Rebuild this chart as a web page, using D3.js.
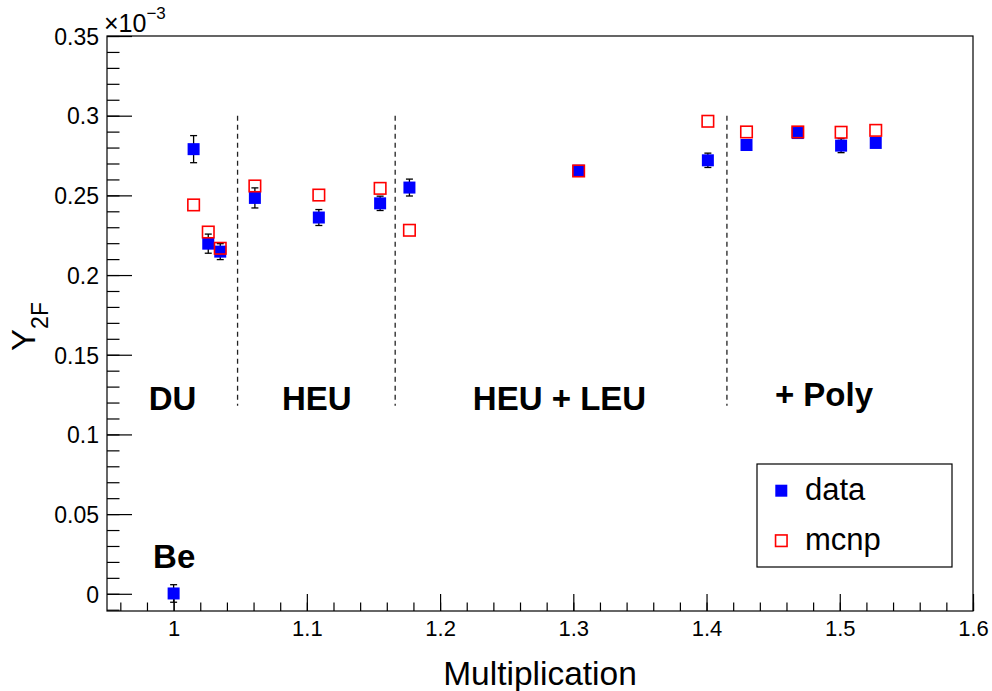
<!DOCTYPE html>
<html>
<head>
<meta charset="utf-8">
<script src="https://cdn.jsdelivr.net/npm/d3@7"></script>
<style>
  html, body { margin: 0; padding: 0; background: #fff; }
  svg { display: block; }
  text { font-family: "Liberation Sans", Arial, Helvetica, sans-serif; fill: #000; }
</style>
</head>
<body>
<svg id="chart" width="992" height="691"></svg>
<script>
// ---------- data (values in units of 1e-3) ----------
const dataX   = [1.000, 1.015, 1.026, 1.035, 1.061, 1.109, 1.155, 1.177, 1.304, 1.401, 1.430, 1.4685, 1.501, 1.527];
const dataY   = [0.0002, 0.2790, 0.2197, 0.2147, 0.2484, 0.2361, 0.2450, 0.2549, 0.2655, 0.2720, 0.2816, 0.2891, 0.2812, 0.2829];
const dataErr = [0.0055, 0.0085, 0.0060, 0.0050, 0.0063, 0.0050, 0.0045, 0.0053, 0.0020, 0.0045, 0.0020, 0.0030, 0.0044, 0.0020];
const mcnpX   = [1.015, 1.026, 1.035, 1.061, 1.109, 1.155, 1.177, 1.304, 1.401, 1.430, 1.4685, 1.501, 1.527];
const mcnpY   = [0.2440, 0.2270, 0.2168, 0.2559, 0.2502, 0.2544, 0.2281, 0.2653, 0.2965, 0.2898, 0.2898, 0.2896, 0.2908];

const dividerX = [1.048, 1.1663, 1.4153];
const dividerTop = 0.30, dividerBottom = 0.118;

const regionNames = ["DU", "HEU", "HEU + LEU", "+ Poly", "Be"];
const regionX     = [0.9813, 1.0813, 1.2246, 1.4513, 0.9846];
const regionY     = [0.1156, 0.1156, 0.1156, 0.1177, 0.0164];

const xTickValues = [1.0, 1.1, 1.2, 1.3, 1.4, 1.5, 1.6];
const xTickLabels = ["1", "1.1", "1.2", "1.3", "1.4", "1.5", "1.6"];
const yTickValues = [0, 0.05, 0.10, 0.15, 0.20, 0.25, 0.30, 0.35];
const yTickLabels = ["0", "0.05", "0.1", "0.15", "0.2", "0.25", "0.3", "0.35"];

const legendLabels = ["data", "mcnp"];

// ---------- layout ----------
const frame = { left: 107, right: 973, top: 36, bottom: 611 };
const svg = d3.select("#chart");

const x = d3.scaleLinear().domain([0.95, 1.6]).range([frame.left, frame.right]);
const y = d3.scaleLinear().domain([-0.0108, 0.35]).range([frame.bottom, frame.top]);

// frame
svg.append("rect")
  .attr("x", frame.left).attr("y", frame.top)
  .attr("width", frame.right - frame.left).attr("height", frame.bottom - frame.top)
  .attr("fill", "none").attr("stroke", "#000").attr("stroke-width", 1.2);

// x axis ticks (inward, upwards)
const xMinor = d3.range(0.96, 1.6001, 0.02).filter(v => v <= 1.6);
const xAxisMinor = d3.axisBottom(x).tickValues(xMinor).tickSize(-8.5).tickFormat("");
const xAxisMajor = d3.axisBottom(x).tickValues(xTickValues).tickSize(-17)
  .tickFormat((d, i) => xTickLabels[i]).tickPadding(0);
const gxm = svg.append("g").attr("transform", `translate(0,${frame.bottom})`).call(xAxisMinor);
const gx = svg.append("g").attr("transform", `translate(0,${frame.bottom})`).call(xAxisMajor);
[gxm, gx].forEach(g => {
  g.select(".domain").remove();
  g.selectAll("line").attr("stroke", "#000").attr("stroke-width", 1.2);
});
gx.selectAll("text").attr("font-size", 22).attr("dy", null).attr("y", 24.5)
  .style("font-family", '"Liberation Sans", Arial, sans-serif').attr("fill", "#000");

// y axis ticks (inward, to the right)
const yMinor = d3.range(-0.01, 0.3501, 0.01);
const yAxisMinor = d3.axisLeft(y).tickValues(yMinor).tickSize(-12.5).tickFormat("");
const yAxisMajor = d3.axisLeft(y).tickValues(yTickValues).tickSize(-25)
  .tickFormat((d, i) => yTickLabels[i]).tickPadding(0);
const gym = svg.append("g").attr("transform", `translate(${frame.left},0)`).call(yAxisMinor);
const gy = svg.append("g").attr("transform", `translate(${frame.left},0)`).call(yAxisMajor);
[gym, gy].forEach(g => {
  g.select(".domain").remove();
  g.selectAll("line").attr("stroke", "#000").attr("stroke-width", 1.2);
});
gy.selectAll("text").attr("font-size", 23).attr("x", -8).attr("dy", "0.36em")
  .style("font-family", '"Liberation Sans", Arial, sans-serif').attr("fill", "#000");

// exponent label
const expo = svg.append("text").attr("x", 104).attr("y", 32).style("font-size", "25px");
expo.append("tspan").text("\u00d710");
expo.append("tspan").style("font-size", "17px").attr("dy", -13).text("\u22123");

// axis titles
svg.append("text")
  .attr("x", (frame.left + frame.right) / 2).attr("y", 685)
  .attr("text-anchor", "middle").attr("font-size", 33.5)
  .text("Multiplication");

const yt = svg.append("text")
  .attr("transform", `translate(35,${(frame.top + frame.bottom) / 2 + 3}) rotate(-90)`)
  .attr("text-anchor", "middle").attr("font-size", 33);
yt.append("tspan").text("Y");
yt.append("tspan").attr("font-size", 23).attr("dy", 13).text("2F");

// dividers
svg.append("g").selectAll("line").data(dividerX).join("line")
  .attr("x1", d => x(d)).attr("x2", d => x(d))
  .attr("y1", y(dividerTop)).attr("y2", y(dividerBottom))
  .attr("stroke", "#222").attr("stroke-width", 1.3)
  .attr("stroke-dasharray", "5,4");

// region labels
svg.append("g").selectAll("text").data(regionNames).join("text")
  .attr("x", (d, i) => x(regionX[i])).attr("y", (d, i) => y(regionY[i]))
  .attr("font-size", 33).attr("font-weight", "bold")
  .text(d => d);

// data: error bars
const dataPts = dataX.map((v, i) => ({ x: v, y: dataY[i], e: dataErr[i] }));
const eg = svg.append("g").attr("stroke", "#000").attr("stroke-width", 1.3);
dataPts.forEach(p => {
  const cx = x(p.x), y1 = y(p.y + p.e), y2 = y(p.y - p.e);
  eg.append("line").attr("x1", cx).attr("x2", cx).attr("y1", y1).attr("y2", y2);
  eg.append("line").attr("x1", cx - 3.5).attr("x2", cx + 3.5).attr("y1", y1).attr("y2", y1);
  eg.append("line").attr("x1", cx - 3.5).attr("x2", cx + 3.5).attr("y1", y2).attr("y2", y2);
});
const sq = 12;
svg.append("g").selectAll("rect").data(dataPts).join("rect")
  .attr("x", d => x(d.x) - sq / 2).attr("y", d => y(d.y) - sq / 2)
  .attr("width", sq).attr("height", sq).attr("fill", "#0000ff");

// mcnp open squares
const mcnpPts = mcnpX.map((v, i) => ({ x: v, y: mcnpY[i] }));
const osq = 11.5;
svg.append("g").selectAll("rect").data(mcnpPts).join("rect")
  .attr("x", d => x(d.x) - osq / 2).attr("y", d => y(d.y) - osq / 2)
  .attr("width", osq).attr("height", osq)
  .attr("fill", "none").attr("stroke", "#ff0000").attr("stroke-width", 1.6);

// legend
const lg = svg.append("g");
lg.append("rect").attr("x", 757).attr("y", 464).attr("width", 195).attr("height", 103)
  .attr("fill", "#fff").attr("stroke", "#000").attr("stroke-width", 1.2);
lg.append("rect").attr("x", 781.3 - 6).attr("y", 490.7 - 6).attr("width", 12).attr("height", 12)
  .attr("fill", "#0000ff");
lg.append("rect").attr("x", 781.3 - 5.75).attr("y", 540.7 - 5.75).attr("width", 11.5).attr("height", 11.5)
  .attr("fill", "none").attr("stroke", "#ff0000").attr("stroke-width", 1.6);
lg.selectAll("text.lab").data(legendLabels).join("text").attr("class", "lab")
  .attr("x", 805).attr("y", (d, i) => 500 + i * 50)
  .attr("font-size", 31).text(d => d);
</script>
</body>
</html>
